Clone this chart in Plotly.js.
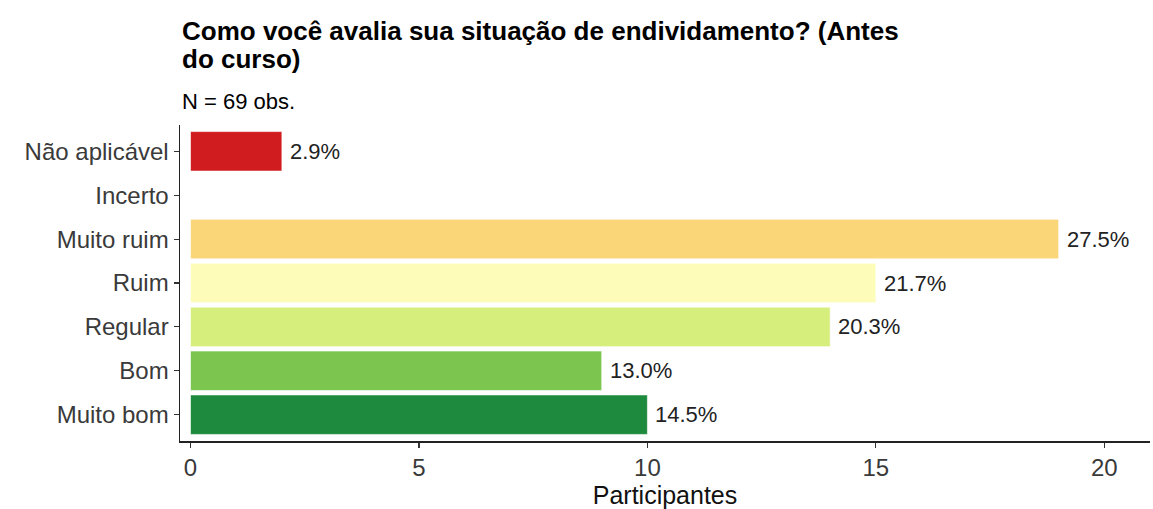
<!DOCTYPE html>
<html>
<head>
<meta charset="utf-8">
<script src="https://cdn.plot.ly/plotly-3.0.1.min.js"></script>
<style>html,body{margin:0;padding:0;background:#fff;}#chart{width:1153px;height:509px;}</style>
</head>
<body>
<div id="chart"></div>
<script>
const categories = ["Não aplicável", "Incerto", "Muito ruim", "Ruim", "Regular", "Bom", "Muito bom"];
const participants = [2, 0, 19, 15, 14, 9, 10];
const percentLabels = ["2.9%", "", "27.5%", "21.7%", "20.3%", "13.0%", "14.5%"];
const barColors = ["#d01c1f", "#f88d52", "#fbd679", "#fdfcb8", "#d6ee7c", "#7cc650", "#1e8a3d"];
const xTicks = [0, 5, 10, 15, 20];
const titleLines = ["Como você avalia sua situação de endividamento? (Antes", "do curso)"];
const subtitle = "N = 69 obs.";

const font = "Liberation Sans, Arial, Helvetica, sans-serif";

const trace = {
  type: "bar",
  orientation: "h",
  y: categories,
  x: participants,
  width: 0.9,
  marker: {color: barColors, line: {color: "rgba(255,255,255,0.6)", width: 1}},
  hoverinfo: "none"
};

const annotations = [];
categories.forEach((c, i) => {
  if (percentLabels[i]) {
    annotations.push({
      x: participants[i], y: c, xref: "x", yref: "y",
      text: percentLabels[i], showarrow: false,
      xanchor: "left", yanchor: "middle", xshift: 6,
      font: {family: font, size: 22, color: "#222"}
    });
  }
});
const titleShifts = [94, 66];
titleLines.forEach((t, i) => {
  annotations.push({
    xref: "paper", yref: "paper", x: 0, y: 1, yshift: titleShifts[i],
    xanchor: "left", yanchor: "middle", align: "left",
    text: "<b>" + t + "</b>",
    showarrow: false, font: {family: font, size: 26, color: "#000"}
  });
});
annotations.push({
  xref: "paper", yref: "paper", x: 0, y: 1, yshift: 24,
  xanchor: "left", yanchor: "middle", align: "left",
  text: subtitle, showarrow: false,
  font: {family: font, size: 22, color: "#000"}
});

const layout = {
  width: 1153, height: 509,
  margin: {l: 180, r: 3, t: 125, b: 68},
  paper_bgcolor: "#fff", plot_bgcolor: "#fff",
  showlegend: false,
  font: {family: font},
  xaxis: {
    range: [-0.23, 21.0],
    tickvals: xTicks, ticktext: xTicks.map(String),
    showgrid: false, zeroline: false,
    showline: true, linecolor: "#222", linewidth: 1.5,
    ticks: "outside", ticklen: 5, tickcolor: "#333", tickwidth: 1.2,
    tickfont: {family: font, size: 24, color: "#3a3a3a"},
    title: {text: "Participantes", font: {family: font, size: 25, color: "#111"}, standoff: 0}
  },
  yaxis: {
    categoryorder: "array", categoryarray: categories.slice().reverse(),
    range: [-0.6, 6.6],
    showgrid: false, zeroline: false,
    showline: true, linecolor: "#222", linewidth: 1.5,
    ticks: "outside", ticklen: 5, tickcolor: "#333", tickwidth: 1.2,
    tickfont: {family: font, size: 24, color: "#3a3a3a"}
  },
  annotations: annotations
};

Plotly.newPlot("chart", [trace], layout, {staticPlot: true, displayModeBar: false});
</script>
</body>
</html>
